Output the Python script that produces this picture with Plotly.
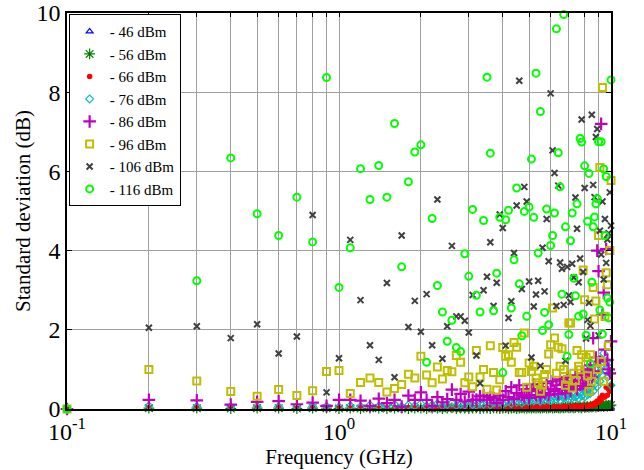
import plotly.graph_objects as go

freq = [0.1, 0.2, 0.3, 0.4, 0.5, 0.6, 0.7, 0.8, 0.9, 1.0,
        1.1, 1.2, 1.3, 1.4, 1.5, 1.6, 1.7, 1.8, 1.9, 2.0,
        2.1, 2.2, 2.3, 2.4, 2.5, 2.6, 2.7, 2.8, 2.9, 3.0,
        3.1, 3.2, 3.3, 3.4, 3.5, 3.6, 3.7, 3.8, 3.9, 4.0,
        4.1, 4.2, 4.3, 4.4, 4.5, 4.6, 4.7, 4.8, 4.9, 5.0,
        5.1, 5.2, 5.3, 5.4, 5.5, 5.6, 5.7, 5.8, 5.9, 6.0,
        6.1, 6.2, 6.3, 6.4, 6.5, 6.6, 6.7, 6.8, 6.9, 7.0,
        7.1, 7.2, 7.3, 7.4, 7.5, 7.6, 7.7, 7.8, 7.9, 8.0,
        8.1, 8.2, 8.3, 8.4, 8.5, 8.6, 8.7, 8.8, 8.9, 9.0,
        9.1, 9.2, 9.3, 9.4, 9.5, 9.6, 9.7, 9.8, 9.9, 10.0]

s46 = [0.0, 0.01, 0.01, 0.0, 0.01, 0.01, 0.0, 0.01, 0.01, 0.0,
       0.01, 0.0, 0.01, 0.01, 0.0, 0.01, 0.01, 0.0, 0.01, 0.01,
       0.0, 0.01, 0.01, 0.0, 0.01, 0.01, 0.0, 0.01, 0.01, 0.0,
       0.01, 0.01, 0.0, 0.01, 0.01, 0.0, 0.01, 0.01, 0.0, 0.01,
       0.01, 0.0, 0.01, 0.01, 0.0, 0.01, 0.01, 0.0, 0.01, 0.01,
       0.0, 0.01, 0.01, 0.0, 0.01, 0.01, 0.0, 0.01, 0.01, 0.0,
       0.01, 0.01, 0.0, 0.01, 0.01, 0.0, 0.01, 0.01, 0.0, 0.01,
       0.01, 0.0, 0.01, 0.01, 0.0, 0.01, 0.01, 0.0, 0.01, 0.01,
       0.0, 0.01, 0.01, 0.0, 0.01, 0.01, 0.0, 0.01, 0.01, 0.0,
       0.01, 0.01, 0.0, 0.01, 0.01, 0.0, 0.01, 0.01, 0.0, 0.01]

s56 = [0.0, 0.02, 0.02, 0.01, 0.02, 0.02, 0.01, 0.02, 0.02, 0.01,
       0.02, 0.01, 0.02, 0.02, 0.01, 0.02, 0.02, 0.01, 0.02, 0.02,
       0.01, 0.02, 0.02, 0.01, 0.02, 0.03, 0.01, 0.02, 0.02, 0.01,
       0.02, 0.03, 0.01, 0.02, 0.02, 0.01, 0.03, 0.02, 0.01, 0.02,
       0.03, 0.01, 0.02, 0.03, 0.01, 0.02, 0.03, 0.02, 0.02, 0.03,
       0.02, 0.03, 0.02, 0.03, 0.02, 0.03, 0.04, 0.02, 0.03, 0.04,
       0.02, 0.03, 0.04, 0.03, 0.02, 0.04, 0.03, 0.04, 0.05, 0.03,
       0.04, 0.05, 0.03, 0.04, 0.06, 0.04, 0.05, 0.03, 0.06, 0.04,
       0.05, 0.06, 0.04, 0.07, 0.05, 0.06, 0.08, 0.05, 0.07, 0.06,
       0.08, 0.07, 0.09, 0.06, 0.08, 0.1, 0.07, 0.09, 0.08, 0.1]

s66 = [0.0, 0.03, 0.03, 0.02, 0.03, 0.03, 0.02, 0.03, 0.02, 0.03,
       0.02, 0.03, 0.03, 0.02, 0.03, 0.03, 0.02, 0.04, 0.03, 0.02,
       0.03, 0.04, 0.02, 0.03, 0.04, 0.03, 0.02, 0.04, 0.03, 0.03,
       0.04, 0.02, 0.03, 0.04, 0.03, 0.05, 0.03, 0.04, 0.03, 0.05,
       0.03, 0.04, 0.05, 0.03, 0.04, 0.05, 0.03, 0.04, 0.05, 0.04,
       0.03, 0.05, 0.04, 0.06, 0.04, 0.05, 0.04, 0.06, 0.05, 0.04,
       0.06, 0.05, 0.04, 0.06, 0.05, 0.07, 0.05, 0.06, 0.05, 0.07,
       0.06, 0.05, 0.07, 0.06, 0.08, 0.06, 0.07, 0.06, 0.08, 0.07,
       0.08, 0.07, 0.09, 0.08, 0.1, 0.1, 0.15, 0.12, 0.2, 0.18,
       0.28, 0.22, 0.35, 0.3, 0.3, 0.55, 0.35, 0.5, 0.45, 0.6]

s76 = [0.0, 0.08, 0.06, 0.05, 0.07, 0.06, 0.05, 0.06, 0.07, 0.05,
       0.08, 0.06, 0.1, 0.07, 0.09, 0.12, 0.06, 0.1, 0.08, 0.13,
       0.07, 0.1, 0.14, 0.08, 0.11, 0.15, 0.09, 0.12, 0.1, 0.16,
       0.11, 0.09, 0.14, 0.12, 0.17, 0.1, 0.15, 0.13, 0.18, 0.12,
       0.16, 0.2, 0.14, 0.22, 0.17, 0.25, 0.15, 0.2, 0.23, 0.18,
       0.26, 0.2, 0.24, 0.3, 0.19, 0.27, 0.22, 0.32, 0.25, 0.2,
       0.28, 0.33, 0.24, 0.3, 0.22, 0.35, 0.27, 0.3, 0.38, 0.25,
       0.32, 0.28, 0.4, 0.3, 0.35, 0.27, 0.42, 0.33, 0.38, 0.3,
       0.45, 0.36, 0.5, 0.4, 0.55, 0.45, 0.62, 0.74, 0.57, 0.91,
       0.7, 1.05, 0.85, 1.41, 1.0, 1.2, 0.8, 1.16, 0.9, 0.6]

s86 = [0.0, 0.23, 0.22, 0.11, 0.18, 0.2, 0.12, 0.16, 0.08, 0.23,
       0.23, 0.21, 0.08, 0.26, 0.15, 0.23, 0.06, 0.34, 0.23, 0.42,
       0.23, 0.08, 0.3, 0.17, 0.25, 0.49, 0.23, 0.38, 0.19, 0.44,
       0.23, 0.24, 0.32, 0.34, 0.23, 0.3, 0.27, 0.15, 0.34, 0.23,
       0.45, 0.3, 0.55, 0.25, 0.4, 0.6, 0.35, 0.3, 0.5, 0.28,
       0.45, 0.62, 0.35, 0.5, 0.3, 0.55, 0.4, 0.65, 0.35, 0.5,
       0.7, 0.45, 0.6, 0.38, 0.75, 0.5, 0.62, 0.4, 0.8, 0.55,
       0.45, 0.7, 0.6, 0.85, 0.5, 0.72, 0.6, 0.9, 0.65, 0.87,
       0.55, 1.0, 0.75, 1.1, 0.8, 1.79, 0.95, 1.3, 4.0, 3.48,
       1.2, 7.2, 2.38, 2.94, 1.5, 4.04, 1.24, 1.0, 0.9, 1.71]

s96 = [0.0, 1.0, 0.71, 0.44, 0.32, 0.49, 0.34, 0.46, 0.95, 0.97,
       0.39, 0.67, 0.78, 0.67, 0.43, 0.52, 0.62, 0.88, 0.78, 1.33,
       0.86, 0.66, 1.06, 0.76, 0.97, 0.94, 1.35, 1.18, 0.66, 0.81,
       0.56, 1.48, 0.81, 1.0, 0.5, 1.6, 0.92, 0.48, 0.74, 1.55,
       1.33, 1.37, 1.18, 1.68, 1.56, 0.92, 0.92, 1.92, 0.55, 1.16,
       0.95, 1.08, 0.78, 0.66, 0.45, 0.6, 0.87, 1.0, 1.39, 1.62,
       2.55, 1.79, 0.9, 1.56, 1.08, 1.52, 1.0, 0.6, 0.75, 2.17,
       2.17, 0.53, 0.9, 0.72, 1.48, 1.08, 0.99, 1.37, 3.51, 2.76,
       1.3, 0.84, 0.45, 1.37, 0.7, 3.07, 2.27, 2.73, 1.0, 4.38,
       6.1, 1.2, 8.12, 0.7, 2.34, 3.44, 3.14, 1.6, 4.0, 5.77]

s106 = [0.0, 2.05, 2.09, 1.79, 2.14, 1.4, 1.83, 4.9, 0.42, 1.28,
        4.27, 2.75, 1.61, 1.24, 3.18, 0.8, 4.38, 2.07, 2.73, 1.95,
        2.9, 1.61, 5.29, 1.27, 2.09, 4.12, 2.34, 2.34, 2.23, 1.93,
        2.88, 1.35, 0.65, 3.0, 3.34, 4.21, 2.6, 3.19, 4.91, 4.57,
        1.6, 2.3, 2.72, 3.94, 5.14, 8.29, 3.03, 5.61, 5.24, 3.22,
        1.3, 2.59, 2.89, 3.24, 1.09, 4.07, 2.97, 4.8, 3.73, 7.97,
        6.53, 5.96, 2.6, 5.64, 3.7, 3.54, 2.63, 1.22, 3.59, 2.87,
        2.7, 3.67, 3.32, 5.34, 4.55, 3.2, 3.8, 7.31, 3.46, 5.58,
        1.78, 2.25, 2.68, 2.1, 7.43, 5.66, 5.35, 6.87, 7.07, 1.86,
        4.5, 3.9, 5.24, 3.27, 4.8, 3.69, 4.28, 4.44, 5.47, 4.63]

s116 = [0.0, 5.34, 3.24, 6.34, 4.93, 4.38, 5.35, 4.22, 8.37, 3.07,
        4.07, 6.07, 5.29, 6.15, 5.35, 7.21, 3.59, 5.74, 6.49, 6.67,
        1.18, 4.81, 3.12, 2.45, 1.71, 2.24, 1.55, 1.45, 3.92, 3.35,
        5.04, 2.87, 2.45, 4.76, 8.38, 6.46, 2.48, 3.43, 4.84, 0.92,
        4.78, 5.02, 2.55, 3.77, 5.58, 3.16, 1.85, 4.99, 2.34, 5.1,
        6.31, 4.84, 8.48, 3.94, 7.51, 1.98, 2.44, 5.05, 2.13, 4.13,
        4.38, 4.95, 9.6, 6.47, 5.61, 2.9, 9.96, 4.6, 1.33, 1.88,
        4.25, 4.95, 3.3, 2.86, 5.18, 2.34, 6.83, 6.74, 2.4, 6.14,
        1.86, 4.74, 5.95, 1.14, 3.2, 4.6, 4.85, 5.18, 5.31, 6.75,
        2.5, 6.75, 1.89, 6.06, 4.38, 5.87, 2.8, 2.3, 2.7, 8.31]

names = ["- 46 dBm", "- 56 dBm", "- 66 dBm", "- 76 dBm",
         "- 86 dBm", "- 96 dBm", "- 106 dBm", "- 116 dBm"]
series = [s46, s56, s66, s76, s86, s96, s106, s116]
colors = ["#0000ff", "#008000", "#ff0000", "#00bfbf",
          "#bf00bf", "#bfbf00", "#404040", "#00ff00"]
symbols = ["triangle-up-open", "asterisk-open", "circle", "diamond-open",
           "cross-thin-open", "square-open", "x-thin-open", "circle-open"]
sizes = [6, 9, 5.5, 6, 9, 7, 6, 7]
lwidths = [1.2, 1.2, 0, 1.2, 2.2, 2, 2, 2]

fig = go.Figure()
for n, s, c, sym, sz, lw in zip(names, series, colors, symbols, sizes, lwidths):
    fig.add_trace(go.Scatter(
        x=freq, y=s, name=n, mode="markers", cliponaxis=False,
        marker=dict(symbol=sym, size=sz, color=c, line=dict(color=c, width=lw)),
    ))

xgrid = [0.1, 0.2, 0.3, 0.4, 0.5, 0.6, 0.7, 0.8, 0.9,
         1, 2, 3, 4, 5, 6, 7, 8, 9, 10]
xtext = ["10<sup>-1</sup>"] + [""] * 8 + ["10<sup>0</sup>"] + [""] * 8 + ["10<sup>1</sup>"]

font = "Liberation Serif, Times New Roman, serif"
fig.update_layout(
    width=644, height=470,
    margin=dict(l=67, r=33, t=13, b=61),
    paper_bgcolor="white", plot_bgcolor="white",
    font=dict(family=font, size=24, color="black"),
    showlegend=True,
    legend=dict(x=0.003, y=0.997, xanchor="left", yanchor="top",
                bgcolor="white", bordercolor="black", borderwidth=1,
                font=dict(family=font, size=15), tracegroupgap=0,
                itemwidth=30),
    xaxis=dict(type="log", range=[-1, 1], tickmode="array",
               tickvals=xgrid, ticktext=xtext, automargin=False,
               showgrid=True, gridcolor="#a0a0a0", gridwidth=1,
               ticks="inside", ticklen=4, tickcolor="black",
               showline=True, linecolor="black", linewidth=1.5, mirror="allticks",
               zeroline=False,
               title=dict(text="Frequency (GHz)", font=dict(size=21), standoff=2)),
    yaxis=dict(range=[0, 10], tickmode="array", tickvals=[0, 2, 4, 6, 8, 10],
               automargin=False, ticklabeloverflow="allow",
               showgrid=True, gridcolor="#a0a0a0", gridwidth=1,
               ticks="inside", ticklen=5, tickcolor="black",
               showline=True, linecolor="black", linewidth=1.5, mirror="allticks",
               zeroline=False,
               title=dict(text="Standard deviation (dB)", font=dict(size=21), standoff=0)),
)

fig.write_html("out.html", config={"displayModeBar": False},
               post_script="document.body.style.margin='0';document.body.style.overflow='hidden';")
